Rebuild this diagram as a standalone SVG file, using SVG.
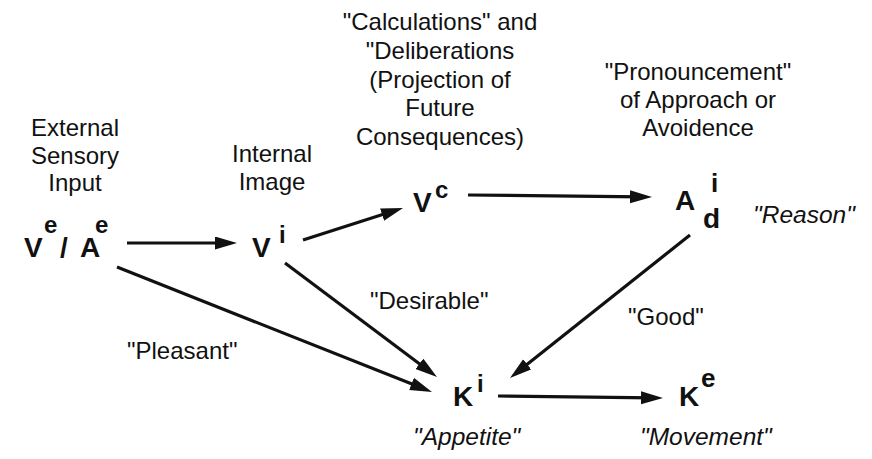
<svg xmlns="http://www.w3.org/2000/svg" width="872" height="459" viewBox="0 0 872 459">
<style>
.t{font-family:"Liberation Sans",Arial,sans-serif;font-size:24px;fill:#111;}
.c{text-anchor:middle;}
.it{font-family:"Liberation Sans",Arial,sans-serif;font-size:24.5px;font-style:italic;fill:#111;}
.m{font-family:"Liberation Sans",Arial,sans-serif;font-weight:bold;font-size:28px;fill:#111;}
.s{font-family:"Liberation Sans",Arial,sans-serif;font-weight:bold;font-size:24px;fill:#111;}
.ln{stroke:#111;stroke-width:3.2;fill:none;marker-end:url(#ah);}
</style>
<defs>
<marker id="ah" markerUnits="userSpaceOnUse" markerWidth="24" markerHeight="14" refX="12" refY="6.5" orient="auto">
<path d="M0,0 L22,6.5 L0,13 Z" fill="#111"/>
</marker>
</defs>
<rect width="872" height="459" fill="#fff"/>
<g id="connectors">
<path class="ln" d="M127,243 L227,243"/>
<path class="ln" d="M303,240 L393.5,211"/>
<path class="ln" d="M468,195 L642,196.9"/>
<path class="ln" d="M690,235 L517.8,371.8"/>
<path class="ln" d="M285,263 L429,371"/>
<path class="ln" d="M117,267 L422.7,388.3"/>
<path class="ln" d="M498,396 L653,397.9"/>
</g>
<g id="external">
<text class="t c" x="75" y="136">External</text>
<text class="t c" x="75" y="163.5">Sensory</text>
<text class="t c" x="75" y="191">Input</text>
</g>
<g id="node-VeAe">
<text class="m" x="24" y="257">V</text>
<text class="s" x="44" y="233">e</text>
<text class="m" x="60" y="257">/</text>
<text class="m" x="80" y="257">A</text>
<text class="s" x="95" y="233">e</text>
</g>
<g id="internal">
<text class="t c" x="272" y="162">Internal</text>
<text class="t c" x="272" y="190">Image</text>
</g>
<g id="node-Vi">
<text class="m" x="252" y="257">V</text>
<text class="s" x="279" y="243">i</text>
</g>
<g id="calculations">
<text class="t c" x="440" y="30">"Calculations" and</text>
<text class="t c" x="440" y="59">"Deliberations</text>
<text class="t c" x="440" y="88">(Projection of</text>
<text class="t c" x="440" y="116">Future</text>
<text class="t c" x="440" y="145">Consequences)</text>
</g>
<g id="node-Vc">
<text class="m" x="413" y="212">V</text>
<text class="s" x="435" y="198">c</text>
</g>
<g id="pronouncement">
<text class="t c" x="698" y="80">"Pronouncement"</text>
<text class="t c" x="698" y="108">of Approach or</text>
<text class="t c" x="698" y="136">Avoidence</text>
</g>
<g id="node-Adi">
<text class="m" x="675" y="210">A</text>
<text class="s" x="711" y="192" style="font-size:26px">i</text>
<text class="m" x="703" y="228">d</text>
<text class="it" x="753" y="223">"Reason"</text>
</g>
<g id="node-Ki">
<text class="m" x="453" y="406">K</text>
<text class="s" x="477" y="392">i</text>
<text class="it" x="413" y="445">"Appetite"</text>
</g>
<g id="node-Ke">
<text class="m" x="679" y="406">K</text>
<text class="s" x="701" y="387" style="font-size:26px">e</text>
<text class="it" x="640" y="445">"Movement"</text>
</g>
<g id="labels">
<text class="t" x="370" y="309">"Desirable"</text>
<text class="t" x="127" y="359">"Pleasant"</text>
<text class="t" x="628" y="325">"Good"</text>
</g>
</svg>
